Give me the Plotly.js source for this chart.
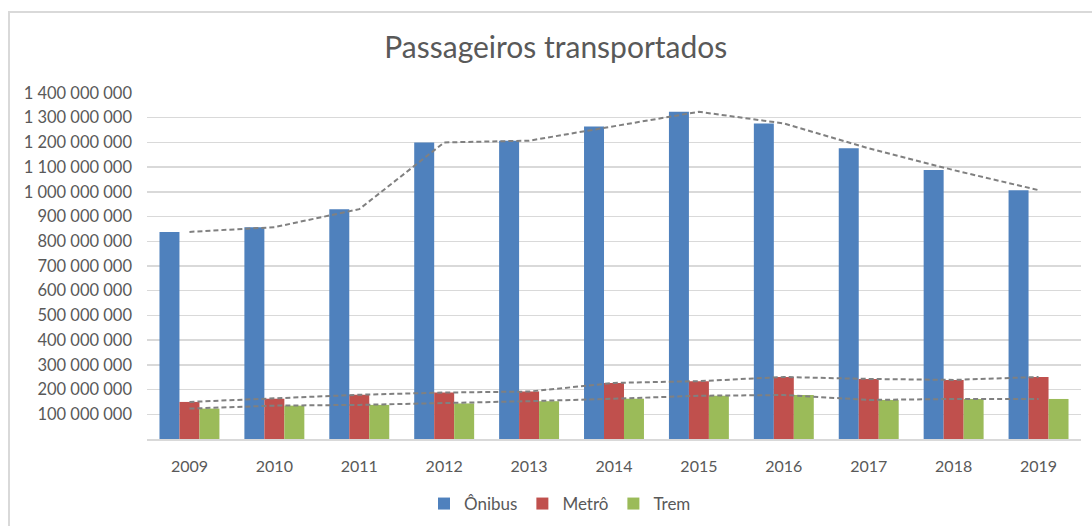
<!DOCTYPE html>
<html>
<head>
<meta charset="utf-8">
<script src="https://cdn.plot.ly/plotly-3.0.1.min.js"></script>
<style>
  html, body { margin: 0; padding: 0; background: #ffffff; }
  #wrap { position: relative; width: 1092px; height: 526px; overflow: hidden; background: #ffffff; }
  #frame { position: absolute; left: 8px; top: 11px; width: 1200px; height: 700px; border: 2px solid #d9d9d9; box-sizing: border-box; }
  #chart { position: absolute; left: 0; top: 0; width: 1092px; height: 526px; }
</style>
</head>
<body>
<div id="wrap">
  <div id="frame"></div>
  <div id="chart"></div>
</div>
<script>
const years = ['2009','2010','2011','2012','2013','2014','2015','2016','2017','2018','2019'];
const onibus = [838e6, 857e6, 930e6, 1200e6, 1207e6, 1264e6, 1324e6, 1277e6, 1176e6, 1088e6, 1007e6];
const metro  = [150e6, 163e6, 179e6, 188e6, 192e6, 227e6, 234e6, 251e6, 243e6, 239e6, 251e6];
const trem   = [123e6, 135e6, 138e6, 144e6, 153e6, 163e6, 175e6, 178e6, 158e6, 162e6, 162e6];
const yTickValues = [1e8, 2e8, 3e8, 4e8, 5e8, 6e8, 7e8, 8e8, 9e8, 10e8, 11e8, 12e8, 13e8, 14e8];
const seriesNames = ['Ônibus', 'Metrô', 'Trem'];
const seriesColors = ['#4F81BD', '#C0504D', '#9BBB59'];
const allSeries = [onibus, metro, trem];

const font = 'Lato, "Open Sans", sans-serif';
const textColor = '#595959';

const traces = [];
allSeries.forEach((vals, i) => {
  traces.push({
    type: 'bar', x: years, y: vals, name: seriesNames[i],
    marker: { color: seriesColors[i], line: { width: 0 } }
  });
});
allSeries.forEach((vals, i) => {
  traces.push({
    type: 'scatter', mode: 'lines', x: years, y: vals, showlegend: false,
    line: { color: '#808080', width: 2, dash: '5px,3px' }
  });
});

const layout = {
  width: 1092, height: 526,
  margin: { l: 147, r: 11, t: 93, b: 87 },
  paper_bgcolor: 'rgba(0,0,0,0)',
  plot_bgcolor: 'rgba(0,0,0,0)',
  separators: ', ',
  barmode: 'group',
  bargap: 0.294,
  bargroupgap: 0,
  font: { family: font, color: textColor, size: 16 },
  title: {
    text: 'Passageiros transportados',
    font: { family: font, size: 30, color: textColor },
    x: 0.509, xanchor: 'center', xref: 'container',
    y: 1 - 47/526, yanchor: 'middle', yref: 'container'
  },
  xaxis: {
    type: 'category',
    showgrid: false,
    showline: true, linecolor: '#d9d9d9', linewidth: 2,
    ticks: '', ticklabelstandoff: 12,
    tickfont: { family: font, size: 16, color: textColor },
    fixedrange: true
  },
  yaxis: {
    range: [0, 1.4e9],
    tickmode: 'array', tickvals: yTickValues,
    tickformat: ',d',
    showgrid: true, gridcolor: '#d9d9d9', gridwidth: 1.5,
    zeroline: false, showline: false,
    ticks: '', ticklabelstandoff: 14,
    tickfont: { family: font, size: 16.5, color: textColor },
    fixedrange: true
  },
  showlegend: true,
  legend: {
    orientation: 'h',
    xref: 'container', yref: 'container',
    x: 560/1092, xanchor: 'center',
    y: 1 - 504/526, yanchor: 'middle',
    font: { family: font, size: 17, color: textColor },
    traceorder: 'normal',
    itemwidth: 30
  },
  hovermode: false
};

Plotly.newPlot('chart', traces, layout, { displayModeBar: false, staticPlot: true });
</script>
</body>
</html>
